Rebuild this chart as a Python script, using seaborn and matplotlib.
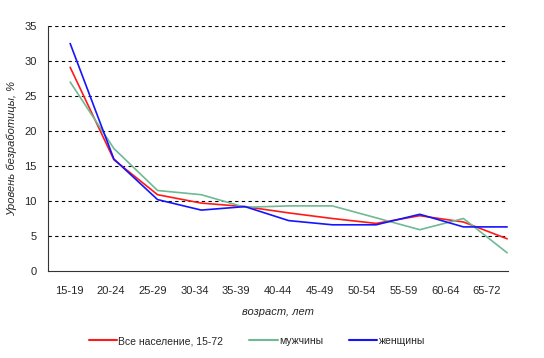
import numpy as np
import pandas as pd
import matplotlib
matplotlib.use("Agg")
import matplotlib.pyplot as plt
import seaborn as sns

# age groups and unemployment rate, %
ages = ["15-19", "20-24", "25-29", "30-34", "35-39", "40-44",
        "45-49", "50-54", "55-59", "60-64", "65-72"]
total = [29.1, 15.9, 10.9, 9.7, 9.2, 8.3, 7.5, 6.8, 7.9, 7.0, 4.6]
men = [27.0, 17.5, 11.5, 10.9, 9.1, 9.3, 9.3, 7.6, 5.9, 7.5, 2.6]
women = [32.5, 16.0, 10.2, 8.7, 9.2, 7.2, 6.6, 6.6, 8.1, 6.3, 6.3]
series_names = ["Все население, 15-72", "мужчины", "женщины"]
colors = ["#ff1a1a", "#6fb994", "#1414ff"]

sns.set_style("white")
plt.rcParams["font.family"] = ["Liberation Sans", "DejaVu Sans"]

# the original chart puts the points slightly off the category centres
pos = np.linspace(0.53, 10.98, len(ages))
df = pd.DataFrame({
    "x": np.tile(pos, 3),
    "value": total + men + women,
    "series": np.repeat(series_names, len(ages)),
})

fig = plt.figure(figsize=(5.44, 3.58), dpi=100)
ax = fig.add_axes([48 / 544, 1 - 271 / 358, 460 / 544, 245 / 358])

sns.lineplot(data=df, x="x", y="value", hue="series", palette=colors,
             linewidth=1.2, ax=ax, legend=False)

ax.set_xlim(0, 11)
ax.set_ylim(0, 35)
ax.set_yticks(range(0, 36, 5))
for v in range(5, 36, 5):
    ax.axhline(v, color="black", linestyle=(0, (3, 3)), linewidth=0.8, zorder=0)

ax.set_xticks(range(12))
ax.set_xticklabels([])
ax.set_xticks(np.arange(0.5, 11, 1), minor=True)
ax.set_xticklabels(ages, minor=True)
ax.tick_params(axis="x", which="major", direction="out", length=4, width=0.8, color="#333333")
ax.tick_params(axis="x", which="minor", length=0, pad=11, labelsize=8)
ax.tick_params(axis="y", direction="out", length=4, width=0.8, color="#333333", labelsize=8, pad=4)

for s in ["top", "right"]:
    ax.spines[s].set_visible(False)
for s in ["left", "bottom"]:
    ax.spines[s].set_color("#333333")
    ax.spines[s].set_linewidth(0.8)

ax.set_xlabel("возраст, лет", fontsize=8, style="italic", labelpad=8)
ax.set_ylabel("Уровень безработицы, %", fontsize=8, style="italic")
ax.yaxis.set_label_coords(-31 / 460, 0.5)

handles = [plt.Line2D([], [], color=c, linewidth=1.5) for c in colors]
fig.legend(handles, series_names, loc="center", bbox_to_anchor=(257 / 544, 1 - 341 / 358),
           ncol=3, frameon=False, fontsize=7.5, handlelength=2.7, handletextpad=0.15,
           columnspacing=2.5)

fig.savefig("out.png", dpi=100)
